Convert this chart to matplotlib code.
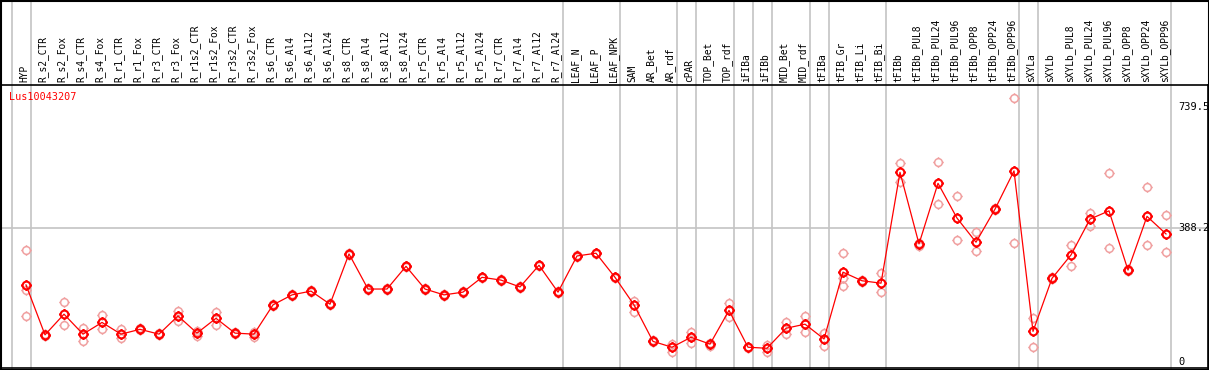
import numpy as np
import matplotlib
matplotlib.use('Agg')
import matplotlib.pyplot as plt
from matplotlib.path import Path
from matplotlib.transforms import blended_transform_factory


# Sample names (header labels)
samples = ['HYP',
           'R_s2_CTR', 'R_s2_Fox', 'R_s4_CTR', 'R_s4_Fox', 'R_r1_CTR', 'R_r1_Fox',
           'R_r3_CTR', 'R_r3_Fox', 'R_r1s2_CTR', 'R_r1s2_Fox', 'R_r3s2_CTR', 'R_r3s2_Fox',
           'R_s6_CTR', 'R_s6_Al4', 'R_s6_Al12', 'R_s6_Al24',
           'R_s8_CTR', 'R_s8_Al4', 'R_s8_Al12', 'R_s8_Al24',
           'R_r5_CTR', 'R_r5_Al4', 'R_r5_Al12', 'R_r5_Al24',
           'R_r7_CTR', 'R_r7_Al4', 'R_r7_Al12', 'R_r7_Al24',
           'LEAF_N', 'LEAF_P', 'LEAF_NPK', 'SAM', 'AR_Bet', 'AR_rdf', 'cPAR',
           'TOP_Bet', 'TOP_rdf', 'iFIBa', 'iFIBb', 'MID_Bet', 'MID_rdf', 'tFIBa',
           'tFIB_Gr', 'tFIB_Li', 'tFIB_Bi', 'tFIBb',
           'tFIBb_PUL8', 'tFIBb_PUL24', 'tFIBb_PUL96', 'tFIBb_OPP8', 'tFIBb_OPP24', 'tFIBb_OPP96',
           'sXYLa', 'sXYLb',
           'sXYLb_PUL8', 'sXYLb_PUL24', 'sXYLb_PUL96', 'sXYLb_OPP8', 'sXYLb_OPP24', 'sXYLb_OPP96']

# Mean expression per sample
means = [223, 78, 138, 80, 114, 80, 94, 80, 133, 83,
         126, 83, 80, 165, 194, 205, 167, 313, 211, 211,
         277, 211, 194, 202, 245, 237, 217, 280, 202, 307,
         315, 245, 165, 59, 42, 71, 51, 149, 42, 39,
         97, 109, 66, 260, 235, 228, 550, 342, 518, 417,
         347, 443, 554, 88, 242, 310, 414, 438, 266, 422,
         371]

# Replicate values per sample
reps = [[324, 208, 133], [80, 76], [172, 107], [99, 60], [136, 94],
        [94, 68], [97, 91], [83, 78], [148, 118], [90, 76],
        [144, 107], [85, 81], [87, 72], [167, 163], [196, 192],
        [207, 203], [169, 165], [315, 311], [213, 209], [213, 209],
        [279, 275], [213, 209], [196, 192], [204, 200], [247, 243],
        [239, 235], [219, 215], [282, 278], [204, 200], [309, 305],
        [317, 313], [247, 243], [176, 145], [62, 56], [52, 29],
        [86, 55], [55, 47], [170, 129], [44, 40], [48, 29],
        [114, 80], [133, 85], [82, 47], [317, 242, 221], [238, 232],
        [257, 202], [577, 523], [345, 337], [579, 457], [481, 353],
        [376, 320], [446, 440], [765, 345], [127, 43], [245, 239],
        [339, 278], [433, 395], [547, 329], [269, 263], [507, 339],
        [426, 318]]

# Group separators drawn after these sample indices
separators = [-1, 0, 28, 31, 34, 35, 37, 38, 39, 41, 42, 45, 52, 53, 60]

gene = 'Lus10043207'
ref_value = 388.2
max_label = 739.5

W, H = 1209, 370
fig = plt.figure(figsize=(W / 100, H / 100), dpi=100)
top_px, bot_px = 85, 368
ax = fig.add_axes([1 / W, (H - bot_px) / H, 1207 / W, (bot_px - top_px) / H])

x = np.arange(len(samples))
ax.set_xlim((1 - 26) / 19, (1208 - 26) / 19)
ax.set_ylim((361.7 - bot_px) / 0.3444, (361.7 - top_px) / 0.3444)

# circle marker with small ticks
circle = Path.unit_circle()
tick_paths = [Path([(0, 1), (0, 1.35)]), Path([(0, -1), (0, -1.35)]),
              Path([(1, 0), (1.35, 0)]), Path([(-1, 0), (-1.35, 0)])]
marker = Path.make_compound_path(circle, *tick_paths)

grid_col = '#c4c4c4'
ax.axhline(ref_value, color=grid_col, lw=1.2, zorder=0)
ymax_ext = (bot_px) / (bot_px - top_px)
for s in separators:
    ax.axvline(s + 0.24, ymin=0, ymax=ymax_ext, color=grid_col, lw=1.2,
               zorder=0, clip_on=False)

rx = [i for i, r in enumerate(reps) for _ in r]
ry = [v for r in reps for v in r]
ax.plot(rx, ry, ls='none', marker=marker, ms=7.5, mfc='none', mec='#f0a0a0',
        mew=1.1, zorder=1)
ax.plot(x, means, color='red', lw=0.9, zorder=2)
ax.plot(x, means, ls='none', marker=marker, ms=7.5, mfc='none', mec='red',
        mew=1.5, zorder=3)

trans = blended_transform_factory(ax.transData, ax.transAxes)
for i, name in enumerate(samples):
    ax.text(i - 0.1, 1 + 3 / (bot_px - top_px), name, transform=trans,
            rotation=90, ha='center', va='bottom', fontsize=6.9,
            family='DejaVu Sans Mono', color='black')

for val in [max_label, ref_value, 0]:
    lab = '0' if val == 0 else f'{val}'
    ax.text((1178 - 26) / 19, val, lab, ha='left', va='center', fontsize=7.5,
            family='DejaVu Sans Mono', color='black')

ax.text(8 / 1207, 1 - 12 / (bot_px - top_px), gene, transform=ax.transAxes,
        ha='left', va='center', fontsize=7.3, family='DejaVu Sans Mono', color='red')

ax.set_xticks([])
ax.set_yticks([])
for sp in ax.spines.values():
    sp.set_linewidth(1.2)

# outer frame
fig.add_artist(plt.Rectangle((0.5 / W, 0.5 / H), 1 - 1 / W, 1 - 1 / H,
                             transform=fig.transFigure, fill=False,
                             edgecolor='black', lw=1.5))

fig.savefig('out.png', dpi=100)
